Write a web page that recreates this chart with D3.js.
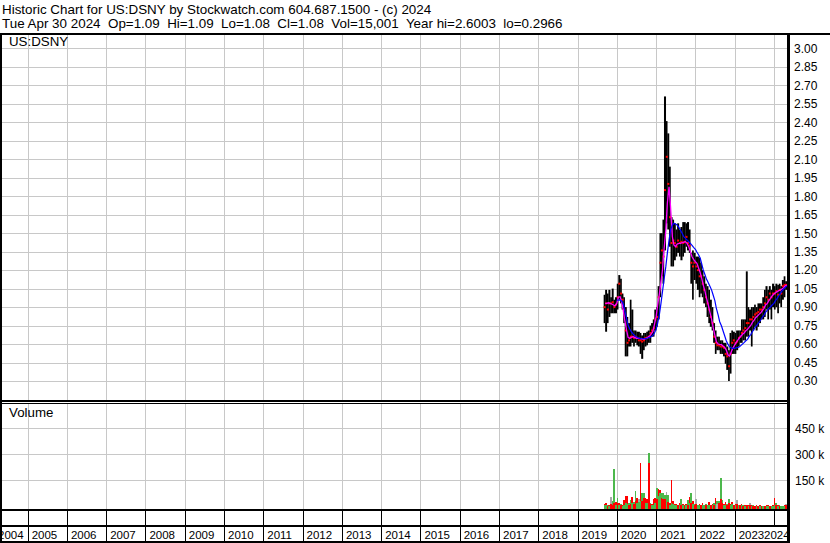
<!DOCTYPE html>
<html><head><meta charset="utf-8">
<script src="https://cdn.jsdelivr.net/npm/d3@7"></script>
<style>
html,body{margin:0;padding:0;background:#fff;}
svg{display:block;font-family:"Liberation Sans",Arial,sans-serif;}
text{white-space:pre;}
</style></head><body>
<svg id="c" width="830" height="543"></svg>
<script>
const titleLine = "Historic Chart for US:DSNY by Stockwatch.com 604.687.1500 - (c) 2024";
const infoLine = "Tue Apr 30 2024  Op=1.09  Hi=1.09  Lo=1.08  Cl=1.08  Vol=15,001  Year hi=2.6003  lo=0.2966";
const symbol = "US:DSNY";
const volumeTitle = "Volume";
const yearLabels = ["2004","2005","2006","2007","2008","2009","2010","2011","2012","2013","2014","2015","2016","2017","2018","2019","2020","2021","2022","2023","2024"];
const priceTicks = [0.30,0.45,0.60,0.75,0.90,1.05,1.20,1.35,1.50,1.65,1.80,1.95,2.10,2.25,2.40,2.55,2.70,2.85,3.00];
const volTicks = [150000,300000,450000];
const volTickLabels = ["150 k","300 k","450 k"];

const dates = ["2019-09-01","2019-09-15","2019-10-01","2019-10-15","2019-11-01","2019-11-15","2019-12-01","2019-12-15",
"2020-01-01","2020-01-15","2020-02-01","2020-02-15","2020-03-01","2020-03-15","2020-04-01","2020-04-15","2020-05-01","2020-05-15","2020-06-01","2020-06-15","2020-07-01","2020-07-15","2020-08-01","2020-08-15","2020-09-01","2020-09-15","2020-10-01","2020-10-15","2020-11-01","2020-11-15","2020-12-01","2020-12-15",
"2021-01-01","2021-01-15","2021-02-01","2021-02-15","2021-03-01","2021-03-15","2021-04-01","2021-04-15","2021-05-01","2021-05-15","2021-06-01","2021-06-15","2021-07-01","2021-07-15","2021-08-01","2021-08-15","2021-09-01","2021-09-15","2021-10-01","2021-10-15","2021-11-01","2021-11-15","2021-12-01","2021-12-15",
"2022-01-01","2022-01-15","2022-02-01","2022-02-15","2022-03-01","2022-03-15","2022-04-01","2022-04-15","2022-05-01","2022-05-15","2022-06-01","2022-06-15","2022-07-01","2022-07-15","2022-08-01","2022-08-15","2022-09-01","2022-09-15","2022-10-01","2022-10-15","2022-11-01","2022-11-15","2022-12-01","2022-12-15",
"2023-01-01","2023-01-15","2023-02-01","2023-02-15","2023-03-01","2023-03-15","2023-04-01","2023-04-15","2023-05-01","2023-05-15","2023-06-01","2023-06-15","2023-07-01","2023-07-15","2023-08-01","2023-08-15","2023-09-01","2023-09-15","2023-10-01","2023-10-15","2023-11-01","2023-11-15","2023-12-01","2023-12-15",
"2024-01-01","2024-01-15","2024-02-01","2024-02-15","2024-03-01","2024-03-15","2024-04-01","2024-04-15","2024-04-30"];

const high = [1.00,1.04,1.01,1.04,0.98,1.05,0.96,0.98,
1.09,1.16,1.13,1.01,0.98,0.90,0.82,0.77,
0.96,0.88,0.71,0.71,0.70,0.70,0.69,0.67,
0.69,0.69,0.70,0.71,0.75,0.77,0.80,0.88,
0.90,1.07,1.50,1.50,1.61,2.61,2.41,2.31,
2.04,1.63,1.61,1.58,1.53,1.58,1.53,1.55,
1.59,1.59,1.58,1.59,1.53,1.34,1.36,1.34,
1.31,1.31,1.30,1.26,1.20,1.15,1.09,1.07,
1.04,0.96,0.90,0.77,0.71,0.66,0.66,0.63,
0.63,0.61,0.61,0.58,0.55,0.69,0.71,0.70,
0.69,0.71,0.71,0.71,0.80,0.80,0.80,1.19,
0.90,0.88,0.90,0.90,0.92,0.90,0.93,0.93,
0.93,0.98,1.04,1.07,1.04,1.07,1.04,1.09,
1.07,1.09,1.08,1.09,1.07,1.12,1.15,1.11,1.10];

const low = [0.77,0.70,0.77,0.82,0.85,0.85,0.85,0.85,
0.88,0.96,0.93,0.88,0.77,0.50,0.50,0.58,
0.58,0.61,0.58,0.61,0.59,0.58,0.52,0.48,
0.55,0.58,0.59,0.61,0.61,0.66,0.66,0.71,
0.74,0.80,0.98,1.15,1.09,1.36,1.58,1.53,
1.39,1.23,1.23,1.28,1.31,1.34,1.31,1.28,
1.31,1.34,1.39,1.36,1.34,1.09,0.96,1.12,
1.09,1.04,0.98,1.01,0.98,0.93,0.90,0.82,
0.77,0.74,0.71,0.61,0.52,0.55,0.55,0.52,
0.52,0.50,0.44,0.39,0.30,0.36,0.52,0.52,
0.52,0.55,0.58,0.61,0.61,0.63,0.63,0.66,
0.66,0.71,0.58,0.71,0.74,0.71,0.74,0.77,
0.80,0.80,0.82,0.88,0.80,0.88,0.80,0.90,
0.88,0.90,0.85,0.93,0.90,0.96,0.98,1.04,1.05];

const close = [0.90,0.93,0.88,0.93,0.93,0.94,0.90,0.92,
0.98,1.09,1.01,0.96,0.88,0.71,0.61,0.63,
0.66,0.66,0.65,0.66,0.65,0.63,0.63,0.62,
0.63,0.65,0.65,0.66,0.69,0.71,0.73,0.80,
0.82,0.98,1.26,1.36,1.31,1.85,2.12,1.90,
1.63,1.42,1.44,1.42,1.39,1.44,1.42,1.43,
1.42,1.43,1.47,1.42,1.40,1.26,1.23,1.26,
1.23,1.20,1.15,1.15,1.09,1.04,0.98,0.93,
0.88,0.82,0.77,0.66,0.61,0.59,0.59,0.58,
0.58,0.57,0.52,0.50,0.42,0.52,0.61,0.63,
0.61,0.62,0.65,0.66,0.69,0.71,0.73,0.77,
0.77,0.80,0.80,0.82,0.84,0.85,0.86,0.88,
0.88,0.90,0.93,0.98,0.96,1.01,0.98,1.01,
1.01,1.03,1.00,1.04,1.01,1.07,1.08,1.08,1.08];

const maShort = [null,0.93,0.93,0.935,0.93,0.925,0.917,0.91,
0.93,0.98,0.984,0.944,0.876,0.795,0.714,0.654,
0.646,0.654,0.66,0.654,0.646,0.646,0.646,0.643,
0.638,0.64,0.646,0.654,0.665,0.681,0.70,0.754,
0.822,0.917,1.011,1.106,1.201,1.363,1.525,1.742,
1.877,1.715,1.471,1.404,1.39,1.412,1.417,1.417,
1.423,1.428,1.431,1.417,1.39,1.35,1.309,1.287,
1.268,1.255,1.214,1.179,1.133,1.079,1.025,0.971,
0.917,0.863,0.80,0.735,0.673,0.619,0.60,0.597,
0.595,0.584,0.573,0.551,0.511,0.503,0.538,0.565,
0.592,0.611,0.633,0.651,0.665,0.679,0.692,0.708,
0.719,0.735,0.754,0.776,0.795,0.814,0.827,0.841,
0.854,0.871,0.89,0.917,0.93,0.952,0.971,0.99,
1.006,1.017,1.025,1.033,1.038,1.047,1.057,1.071,1.079];

const maLong = [null,null,null,null,null,null,null,null,
0.957,0.957,0.957,0.949,0.93,0.876,0.808,0.754,
0.722,0.70,0.681,0.668,0.66,0.651,0.646,0.643,
0.643,0.643,0.646,0.649,0.654,0.66,0.668,0.687,
0.719,0.768,0.844,0.93,1.025,1.12,1.228,1.336,
1.444,1.525,1.566,1.58,1.574,1.566,1.547,1.525,
1.498,1.471,1.458,1.444,1.431,1.417,1.401,1.385,
1.369,1.347,1.323,1.296,1.25,1.201,1.16,1.125,
1.098,1.071,1.038,0.998,0.952,0.89,0.835,0.781,
0.746,0.708,0.665,0.627,0.597,0.578,0.568,0.565,
0.565,0.57,0.573,0.578,0.589,0.60,0.614,0.627,
0.638,0.66,0.679,0.70,0.722,0.741,0.76,0.776,
0.795,0.817,0.835,0.857,0.876,0.89,0.903,0.917,
0.93,0.952,0.971,0.992,1.011,1.03,1.047,1.06,1.071];

// volume in thousands of shares: tallest bar in each slot and a second, lower one
const volA = [13,17,8,10,52,30,215,27,
46,17,13,10,35,60,60,20,
37,52,25,88,46,40,252,79,
75,46,40,306,20,15,40,50,
108,98,94,75,75,65,85,65,
17,150,30,13,13,10,17,40,
12,10,12,37,52,79,30,12,
40,10,12,10,21,10,12,8,
27,10,12,20,46,31,31,165,
37,12,27,15,40,15,27,10,
12,37,10,8,13,6,8,10,
8,21,6,5,4,6,4,5,
4,3,4,6,5,4,3,5,
48,17,5,6,4,3,5,13,15];
const dirA = ["d","d","u","d","f","u","u","d",
"u","d","u","d","d","d","d","u",
"u","d","u","u","d","f","d","u",
"u","d","d","u","u","d","d","d",
"u","d","d","u","u","u","f","u",
"d","d","d","d","d","u","d","u",
"d","u","d","u","d","u","d","u",
"f","d","d","u","d","d","u","d",
"d","u","d","u","d","u","u","u",
"u","d","d","u","u","d","d","u",
"d","f","d","u","d","u","d","u",
"d","f","d","u","u","d","u","d",
"u","d","u","d","d","u","d","d",
"d","u","d","u","d","d","d","f","d"];
const volB = [5,8,3,4,12,10,20,10,
17,8,6,4,10,20,15,10,
15,20,12,30,20,25,30,30,
46,20,20,252,13,8,10,20,
40,60,75,50,40,40,65,27,
10,20,13,8,5,8,8,10,
8,6,8,10,20,20,15,8,
12,5,6,5,8,5,6,5,
10,6,5,8,15,15,20,40,
20,8,10,10,20,8,12,6,
6,15,5,5,5,4,4,5,
4,8,3,3,3,3,2,3,
2,2,2,3,2,2,2,2,
10,8,3,3,2,2,3,6,6];
const dirB = ["u","u","d","u","d","d","d","u",
"d","u","d","u","u","u","u","d",
"d","u","d","d","u","u","u","d",
"d","u","u","d","d","u","u","u",
"d","u","u","d","d","d","u","d",
"u","u","u","u","u","d","u","d",
"u","d","u","d","u","d","u","d",
"d","u","u","d","u","u","d","u",
"u","d","u","d","u","f","d","d",
"d","u","u","d","d","u","u","d",
"u","d","u","d","u","d","u","d",
"u","d","u","d","d","u","d","u",
"d","u","d","u","u","d","u","u",
"u","d","u","d","u","u","u","d","u"];

const parse = d3.timeParse("%Y-%m-%d");
const pts = dates.map((d,i)=>({d:parse(d), hi:high[i], lo:low[i], c:close[i], ms:maShort[i], ml:maLong[i],
  va:volA[i]*1000, da:dirA[i], vb:volB[i]*1000, db:dirB[i]}));

const svg = d3.select("#c");
const x = d3.scaleTime().domain([new Date(2004,3,30), new Date(2024,3,30)]).range([1.2,786.8]);
const y = d3.scaleLinear().domain([0.30,3.00]).range([381,48.4]);
const yv = d3.scaleLinear().domain([0,450000]).range([506.3,428.3]);
const dirColor = d3.scaleOrdinal().domain(["u","d","f"]).range(["#4cb84c","#ff0000","#a8a8a8"]);

const L=2, R=787, pTop=35, pBot=400, vTop=404, vBot=509;
const gridC = "#c8c8c8";
const yearStarts = yearLabels.map(s=>new Date(+s,0,1));
const px = v=>Math.round(v)+0.5;

// clip paths
const defs = svg.append("defs");
defs.append("clipPath").attr("id","cp").append("rect").attr("x",L).attr("y",pTop).attr("width",R-L).attr("height",pBot-pTop);
defs.append("clipPath").attr("id","cv").append("rect").attr("x",L).attr("y",vTop).attr("width",R-L).attr("height",vBot-vTop);

// grids
const grid = svg.append("g").attr("stroke",gridC).attr("stroke-width",1).attr("shape-rendering","crispEdges");
yearStarts.filter(d=>x(d)>L && x(d)<R).forEach(d=>{
  grid.append("line").attr("x1",px(x(d))).attr("x2",px(x(d))).attr("y1",pTop).attr("y2",pBot);
  grid.append("line").attr("x1",px(x(d))).attr("x2",px(x(d))).attr("y1",vTop).attr("y2",vBot);
});
priceTicks.forEach(v=>grid.append("line").attr("x1",L).attr("x2",R).attr("y1",px(y(v))).attr("y2",px(y(v))));
volTicks.forEach(v=>grid.append("line").attr("x1",L).attr("x2",R).attr("y1",px(yv(v))).attr("y2",px(yv(v))));

// price bars
const pg = svg.append("g").attr("clip-path","url(#cp)");
const bw = i => (i<pts.length-1 ? x(pts[i+1].d)-x(pts[i].d) : 1.6);
pg.append("g").selectAll("rect").data(pts).join("rect")
  .attr("x",d=>x(d.d)).attr("width",(d,i)=>bw(i)+0.2)
  .attr("y",d=>y(d.hi)).attr("height",d=>Math.max(1,y(d.lo)-y(d.hi)))
  .attr("fill","#000");
pg.append("g").selectAll("rect").data(pts).join("rect")
  .attr("x",d=>x(d.d)).attr("width",2)
  .attr("y",d=>y(d.c)-1).attr("height",2).attr("fill","#ff0000");
const lineS = d3.line().defined(d=>d.ms!=null).x(d=>x(d.d)).y(d=>y(d.ms));
const lineL = d3.line().defined(d=>d.ml!=null).x(d=>x(d.d)).y(d=>y(d.ml));
pg.append("path").datum(pts).attr("d",lineS).attr("fill","none").attr("stroke","#ff00ff").attr("stroke-width",1.3);
pg.append("path").datum(pts).attr("d",lineL).attr("fill","none").attr("stroke","#0000ff").attr("stroke-width",1.2);

// volume bars
const vg = svg.append("g").attr("clip-path","url(#cv)").attr("shape-rendering","crispEdges");
vg.append("g").selectAll("rect").data(pts).join("rect")
  .attr("x",d=>x(d.d)).attr("width",(d,i)=>bw(i))
  .attr("y",d=>yv(d.va)).attr("height",d=>yv(0)-yv(d.va)+3).attr("fill",d=>dirColor(d.da));
vg.append("g").selectAll("rect").data(pts).join("rect")
  .attr("x",d=>x(d.d)).attr("width",(d,i)=>bw(i))
  .attr("y",d=>yv(d.vb)).attr("height",d=>yv(0)-yv(d.vb)+3).attr("fill",d=>dirColor(d.db));

// axes labels
const fam = '"Liberation Sans",Arial,sans-serif';
const ay = svg.append("g").attr("transform","translate(794,0)")
  .call(d3.axisRight(y).tickValues(priceTicks).tickSize(0).tickPadding(0).tickFormat(d3.format(".2f")));
ay.select(".domain").remove();
ay.attr("font-family",fam).attr("font-size",12).selectAll("text").attr("fill","#000");
const av = svg.append("g").attr("transform","translate(795,0)")
  .call(d3.axisRight(yv).tickValues(volTicks).tickSize(0).tickPadding(0).tickFormat((d,i)=>volTickLabels[i]));
av.select(".domain").remove();
av.attr("font-family",fam).attr("font-size",12).selectAll("text").attr("fill","#000");

// x strip dividers
const strip = svg.append("g").attr("stroke","#000").attr("stroke-width",1).attr("shape-rendering","crispEdges");
yearStarts.filter(d=>x(d)>L && x(d)<R).forEach((d,i,a)=>{
  strip.append("line").attr("x1",px(x(d))).attr("x2",px(x(d))).attr("y1",511).attr("y2",526);
  if(i<a.length-1) strip.append("line").attr("x1",px(x(d))).attr("x2",px(x(d))).attr("y1",527).attr("y2",542);
});

// frame
const fr = svg.append("g").attr("fill","#000").attr("shape-rendering","crispEdges");
fr.append("rect").attr("x",0).attr("y",33).attr("width",830).attr("height",2);
fr.append("rect").attr("x",0).attr("y",33).attr("width",2).attr("height",510);
fr.append("rect").attr("x",787).attr("y",33).attr("width",3).attr("height",510);
fr.append("rect").attr("x",0).attr("y",400).attr("width",790).attr("height",2);
fr.append("rect").attr("x",0).attr("y",403).attr("width",790).attr("height",1);
fr.append("rect").attr("x",0).attr("y",509).attr("width",790).attr("height",2);
fr.append("rect").attr("x",0).attr("y",525).attr("width",790).attr("height",2);
fr.append("rect").attr("x",0).attr("y",541).attr("width",790).attr("height",2);

// year labels
const xl = svg.append("g").attr("font-family",fam).attr("font-size",11.5).attr("fill","#000");
yearLabels.forEach((s,i)=>{
  let xx = x(yearStarts[i])+4;
  if(i===0) xx = -2;
  if(i===yearLabels.length-1) xx = 764;
  xl.append("text").attr("x",xx).attr("y",538.5).text(s);
});

// texts
const tx = svg.append("g").attr("font-family",fam).attr("fill","#000");
tx.append("text").attr("x",2).attr("y",14).attr("font-size",13.4).text(titleLine);
tx.append("text").attr("x",2).attr("y",28.3).attr("font-size",13.4).text(infoLine);
tx.append("text").attr("x",9).attr("y",46).attr("font-size",13.3).text(symbol);
tx.append("text").attr("x",9).attr("y",417).attr("font-size",13.3).text(volumeTitle);
</script>
</body></html>
